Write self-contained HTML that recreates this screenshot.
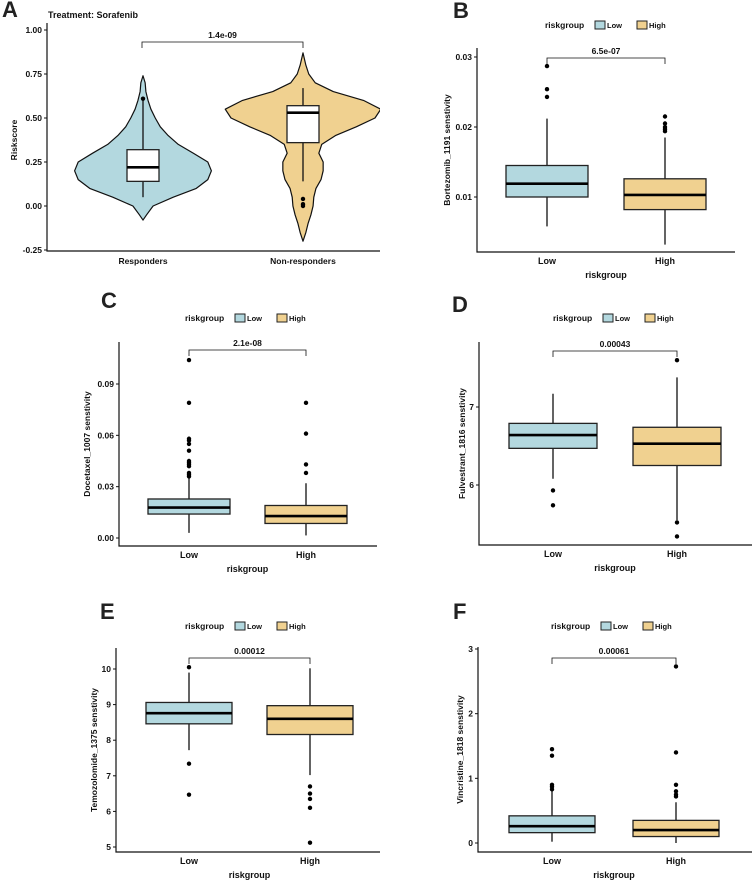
<!DOCTYPE html>
<html><head><meta charset="utf-8"><style>
html,body{margin:0;padding:0;background:#fff}
svg{display:block;font-family:"Liberation Sans",Arial,sans-serif;font-weight:bold}
</style></head><body>
<svg id="fig" width="753" height="882" viewBox="0 0 753 882"></svg>
<script>
// ===== Panel A data =====
const aCategories = ["Responders","Non-responders"];
const aTicks = [1.00,0.75,0.50,0.25,0.00,-0.25];
const aTickLabels = ["1.00","0.75","0.50","0.25","0.00","-0.25"];
const aViolinY = [[-0.08,-0.05,0,0.05,0.1,0.15,0.2,0.25,0.3,0.35,0.4,0.45,0.5,0.55,0.6,0.65,0.7,0.74],
                  [-0.2,-0.15,-0.1,-0.05,0,0.05,0.1,0.15,0.2,0.25,0.3,0.35,0.4,0.45,0.5,0.55,0.6,0.65,0.7,0.75,0.8,0.87]];
const aViolinDensity = [[0,0.05,0.14,0.42,0.74,0.9,0.95,0.9,0.7,0.49,0.35,0.24,0.17,0.11,0.07,0.04,0.03,0],
                        [0,0.04,0.07,0.11,0.14,0.15,0.18,0.25,0.28,0.28,0.22,0.26,0.45,0.74,1.0,1.08,0.84,0.42,0.17,0.08,0.04,0]];
const aQ1=[0.14,0.36], aMed=[0.22,0.53], aQ3=[0.32,0.57], aWLo=[0.05,0.14], aWHi=[0.60,0.67];
const aOutliers=[[0.61],[0.04,0.01,0.0]];
const aPval="1.4e-09";

// ===== Box panels data =====
const groups = ["Low","High"];
const bTicks=[0.01,0.02,0.03], bTickLabels=["0.01","0.02","0.03"];
const bQ1=[0.0100,0.0082], bMed=[0.0119,0.0103], bQ3=[0.0145,0.0126], bWLo=[0.0058,0.0032], bWHi=[0.0212,0.0185];
const bOut=[[0.0287,0.0254,0.0243],[0.0215,0.0205,0.0200,0.0197,0.0194]];
const cTicks=[0,0.03,0.06,0.09], cTickLabels=["0.00","0.03","0.06","0.09"];
const cQ1=[0.0140,0.0085], cMed=[0.0178,0.0128], cQ3=[0.0228,0.019], cWLo=[0.003,0.0015], cWHi=[0.035,0.032];
const cOut=[[0.104,0.079,0.058,0.057,0.055,0.051,0.045,0.044,0.043,0.042,0.038,0.037,0.036],[0.079,0.061,0.043,0.038]];
const dTicks=[6,7], dTickLabels=["6","7"];
const dQ1=[6.47,6.25], dMed=[6.64,6.53], dQ3=[6.79,6.74], dWLo=[6.08,5.55], dWHi=[7.17,7.38];
const dOut=[[5.93,5.74],[7.6,5.52,5.34]];
const eTicks=[5,6,7,8,9,10], eTickLabels=["5","6","7","8","9","10"];
const eQ1=[8.46,8.16], eMed=[8.76,8.6], eQ3=[9.06,8.97], eWLo=[7.72,7.02], eWHi=[9.9,10.02];
const eOut=[[10.05,7.34,6.47],[6.7,6.5,6.35,6.1,5.12]];
const fTicks=[0,1,2,3], fTickLabels=["0","1","2","3"];
const fQ1=[0.16,0.10], fMed=[0.26,0.20], fQ3=[0.42,0.35], fWLo=[0.02,0.0], fWHi=[0.81,0.63];
const fOut=[[1.45,1.35,0.9,0.87,0.83],[2.73,1.4,0.9,0.8,0.75,0.72]];

const NS="http://www.w3.org/2000/svg";
const svg=document.getElementById('fig');
const BLUE="#b3d8df", ORANGE="#f0d190";
function el(tag,attrs,parent,text){const e=document.createElementNS(NS,tag);for(const k in attrs)e.setAttribute(k,attrs[k]);if(text!==undefined)e.textContent=text;(parent||svg).appendChild(e);return e;}
function lin(d0,d1,r0,r1){return v=>r0+(v-d0)*(r1-r0)/(d1-d0);}

function axes(g,x0,yTop,yBot,xEnd,y,ticks,labels){
  const a=el('path',{d:`M${x0},${yTop}V${yBot}H${xEnd}`,stroke:'#111',fill:'none','stroke-width':1.2},g);
  
  
  ticks.forEach((t,i)=>{
    const tk=el('line',{x1:x0-3,x2:x0,y1:y(t),y2:y(t),stroke:'#111','stroke-width':1},g);
    
    
    const tl=el('text',{x:x0-5,y:y(t)+3,'text-anchor':'end','font-size':8.5,fill:'#111'},g,labels[i]);
    
    
  });
}
function bracket(g,x1,x2,yb,text){
  const b=el('path',{d:`M${x1},${yb+6}V${yb}H${x2}V${yb+6}`,stroke:'#111',fill:'none','stroke-width':0.8},g);
  
  
  const t=el('text',{x:(x1+x2)/2,y:yb-4,'text-anchor':'middle','font-size':8.5,fill:'#111'},g,text);
  
  
}
function box(g,cx,hw,y,q1,med,q3,lo,hi,outs,fill,name){
  const w=el('line',{x1:cx,x2:cx,y1:y(lo),y2:y(hi),stroke:'#111','stroke-width':1.3},g);
  
  
  const r=el('rect',{x:cx-hw,y:y(q3),width:2*hw,height:y(q1)-y(q3),fill:fill,stroke:'#222','stroke-width':1.3},g);
  
  
  const m=el('line',{x1:cx-hw,x2:cx+hw,y1:y(med),y2:y(med),stroke:'#000','stroke-width':2.6},g);
  
  
  outs.forEach(o=>{
    const c=el('circle',{cx:cx,cy:y(o),r:2.2,fill:'#000'},g);
    
    
  });
}
function legend(g,x,y){
  const t=el('text',{x:x,y:y+3,'font-size':8.5,fill:'#111'},g,'riskgroup');
  
  
  [[BLUE,'Low',x+50],[ORANGE,'High',x+92]].forEach(([c,l,lx])=>{
    const k=el('rect',{x:lx,y:y-4,width:10,height:8,fill:c,stroke:'#222','stroke-width':1},g);
    
    
    const lt=el('text',{x:lx+12,y:y+3,'font-size':7.5,fill:'#111'},g,l);
    
    
  });
}
function letter(g,x,y,L){
  const t=el('text',{x:x,y:y,'font-size':22,fill:'#222'},g,L);
  
  
}

// ===== Panel A =====
(function(){
  const g=el('g',{});  
  letter(g,2,17,'A');
  const tt=el('text',{x:48,y:18,'font-size':9,fill:'#111'},g,'Treatment: Sorafenib');
   
  const y=lin(0,1,206,30);
  const xs=[143,303];
  const cp=el('clipPath',{id:'clipA'},g); el('rect',{x:47,y:0,width:333,height:260},cp);
  const vg=el('g',{'clip-path':'url(#clipA)'},g);
  const fills=[BLUE,ORANGE];
  aCategories.forEach((c,i)=>{
    const Y=aViolinY[i],D=aViolinDensity[i];let r=[],l=[];
    Y.forEach((v,j)=>{r.push(`${xs[i]+D[j]*72},${y(v)}`);l.push(`${xs[i]-D[j]*72},${y(v)}`);});
    const p=el('polygon',{points:r.concat(l.reverse()).join(' '),fill:fills[i],stroke:'#111','stroke-width':1.2,'stroke-linejoin':'round'},vg);
    
    
    box(g,xs[i],16,y,aQ1[i],aMed[i],aQ3[i],aWLo[i],aWHi[i],aOutliers[i],'#fff',i?'non-responders':'responders');
  });
  axes(g,47,23,251,380,y,aTicks,aTickLabels);
  aCategories.forEach((c,i)=>{
    const t=el('text',{x:xs[i],y:264,'text-anchor':'middle','font-size':8.5,fill:'#111'},g,c);
     
  });
  const yt=el('text',{transform:'translate(17,140) rotate(-90)','text-anchor':'middle','font-size':8.5,fill:'#111'},g,'Riskscore');
   
  bracket(g,142,303,42,aPval);
})();

function boxPanel(o){
  const g=el('g',{});  
  letter(g,o.lx,o.ly,o.L);
  legend(g,o.legX,o.legY);
  const y=lin(o.t0,o.t1,o.y0,o.y1);
  const xs=[o.xl,o.xh],fills=[BLUE,ORANGE];
  groups.forEach((n,i)=>box(g,xs[i],o.hw,y,o.q1[i],o.med[i],o.q3[i],o.lo[i],o.hi[i],o.out[i],fills[i],n.toLowerCase()));
  axes(g,o.ax,o.top,o.bot,o.xEnd,y,o.ticks,o.labels);
  groups.forEach((n,i)=>{
    const t=el('text',{x:xs[i],y:o.bot+12,'text-anchor':'middle','font-size':9,fill:'#111'},g,n);
     
  });
  const xt=el('text',{x:(o.xl+o.xh)/2,y:o.bot+26,'text-anchor':'middle','font-size':9,fill:'#111'},g,'riskgroup');
   
  const yt=el('text',{transform:`translate(${o.ytx},${(o.top+o.bot)/2}) rotate(-90)`,'text-anchor':'middle','font-size':8.5,fill:'#111'},g,o.ytitle);
   
  bracket(g,o.xl,o.xh,o.by,o.p);
}
boxPanel({L:'B',lx:453,ly:18,legX:545,legY:25,t0:0.01,t1:0.03,y0:197,y1:57,xl:547,xh:665,hw:41,ax:477,top:48,bot:252,xEnd:735,
  ticks:bTicks,labels:bTickLabels,q1:bQ1,med:bMed,q3:bQ3,lo:bWLo,hi:bWHi,out:bOut,ytx:450,ytitle:'Bortezomib_1191 senstivity',by:58,p:'6.5e-07'});
boxPanel({L:'C',lx:101,ly:308,legX:185,legY:318,t0:0,t1:0.09,y0:538,y1:384,xl:189,xh:306,hw:41,ax:119,top:342,bot:546,xEnd:377,
  ticks:cTicks,labels:cTickLabels,q1:cQ1,med:cMed,q3:cQ3,lo:cWLo,hi:cWHi,out:cOut,ytx:90,ytitle:'Docetaxel_1007 senstivity',by:350,p:'2.1e-08'});
boxPanel({L:'D',lx:452,ly:312,legX:553,legY:318,t0:6,t1:7,y0:485,y1:407,xl:553,xh:677,hw:44,ax:479,top:342,bot:545,xEnd:752,
  ticks:dTicks,labels:dTickLabels,q1:dQ1,med:dMed,q3:dQ3,lo:dWLo,hi:dWHi,out:dOut,ytx:465,ytitle:'Fulvestrant_1816 senstivity',by:351,p:'0.00043'});
boxPanel({L:'E',lx:100,ly:619,legX:185,legY:626,t0:5,t1:10,y0:847,y1:669,xl:189,xh:310,hw:43,ax:116,top:648,bot:852,xEnd:380,
  ticks:eTicks,labels:eTickLabels,q1:eQ1,med:eMed,q3:eQ3,lo:eWLo,hi:eWHi,out:eOut,ytx:97,ytitle:'Temozolomide_1375 senstivity',by:658,p:'0.00012'});
boxPanel({L:'F',lx:453,ly:619,legX:551,legY:626,t0:0,t1:3,y0:843,y1:649,xl:552,xh:676,hw:43,ax:478,top:647,bot:852,xEnd:752,
  ticks:fTicks,labels:fTickLabels,q1:fQ1,med:fMed,q3:fQ3,lo:fWLo,hi:fWHi,out:fOut,ytx:463,ytitle:'Vincristine_1818 senstivity',by:658,p:'0.00061'});
</script>
</body></html>
